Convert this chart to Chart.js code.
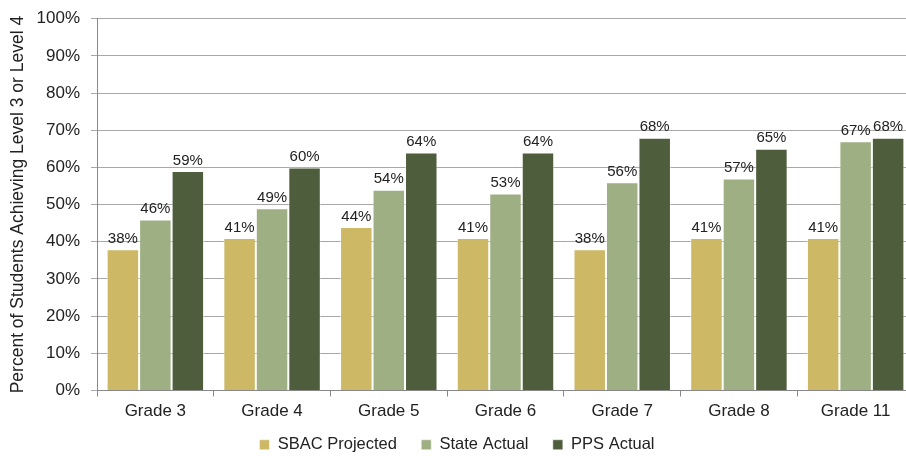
<!DOCTYPE html>
<html>
<head>
<meta charset="utf-8">
<script src="https://cdn.jsdelivr.net/npm/chart.js@4"></script>
<style>
  html, body { margin: 0; padding: 0; background: #fff; overflow: hidden; }
  #wrap { width: 914px; height: 456px; }
</style>
</head>
<body>
<div id="wrap"><canvas id="scoreChart" width="914" height="456"></canvas></div>
<script>
const grades = ['Grade 3', 'Grade 4', 'Grade 5', 'Grade 6', 'Grade 7', 'Grade 8', 'Grade 11'];
const sbacProjected = [38, 41, 44, 41, 38, 41, 41];
const stateActual = [46, 49, 54, 53, 56, 57, 67];
const ppsActual = [59, 60, 64, 64, 68, 65, 68];

const FONT = "'Liberation Sans', Arial, sans-serif";

// etichete deasupra barelor
const barLabels = {
    id: 'barLabels',
    afterDatasetsDraw(chart) {
        const c = chart.ctx;
        c.save();
        c.font = '15px ' + FONT;
        c.fillStyle = '#222';
        c.textAlign = 'center';
        c.textBaseline = 'bottom';
        chart.data.datasets.forEach((ds, i) => {
            chart.getDatasetMeta(i).data.forEach((bar, j) => {
                c.fillText(ds.data[j] + '%', bar.x, bar.y - 3);
            });
        });
        c.restore();
    }
};

new Chart(document.getElementById('scoreChart'), {
    type: 'bar',
    data: {
        labels: grades,
        datasets: [
            { label: 'SBAC Projected', data: sbacProjected, backgroundColor: '#CDB866' },
            { label: 'State Actual', data: stateActual, backgroundColor: '#9DAF83' },
            { label: 'PPS Actual', data: ppsActual, backgroundColor: '#4E5D3C' }
        ].map(d => Object.assign(d, {
            borderColor: 'rgba(255,255,255,0.5)',
            borderWidth: 1,
            barPercentage: 1,
            categoryPercentage: 0.835
        }))
    },
    options: {
        responsive: false,
        animation: false,
        layout: { padding: { top: 8, right: 0, left: 0, bottom: -7 } },
        plugins: {
            tooltip: { enabled: false },
            legend: {
                position: 'bottom',
                labels: {
                    font: { family: FONT, size: 16.5 },
                    color: '#222',
                    boxWidth: 10,
                    boxHeight: 10,
                    padding: 6,
                    // spatiu mai mare intre elemente, padding-ul e mic pe verticala
                    generateLabels: chart => {
                        const items = Chart.defaults.plugins.legend.labels.generateLabels(chart);
                        items.forEach((it, i) => {
                            if (i < items.length - 1) it.text += '    ';
                        });
                        return items;
                    }
                }
            }
        },
        scales: {
            y: {
                min: 0,
                max: 100,
                ticks: {
                    stepSize: 10,
                    callback: v => v + '%',
                    font: { family: FONT, size: 17, lineHeight: 0.9 },
                    color: '#222',
                    padding: 11
                },
                grid: { color: '#a8a8a8', tickLength: 6 },
                border: { color: '#888' },
                title: {
                    display: true,
                    text: 'Percent of Students Achieving Level 3 or Level 4',
                    font: { family: FONT, size: 17.5 },
                    color: '#222',
                    padding: { top: 8, bottom: 0 }
                },
                afterFit: s => { s.width = 97; }
            },
            x: {
                ticks: {
                    font: { family: FONT, size: 17 },
                    color: '#222',
                    padding: 5
                },
                grid: { offset: true, drawOnChartArea: false, color: '#888', tickLength: 6 },
                border: { color: '#888' },
                afterFit: s => { s.height = 40; }
            }
        }
    },
    plugins: [barLabels]
});
</script>
</body>
</html>
